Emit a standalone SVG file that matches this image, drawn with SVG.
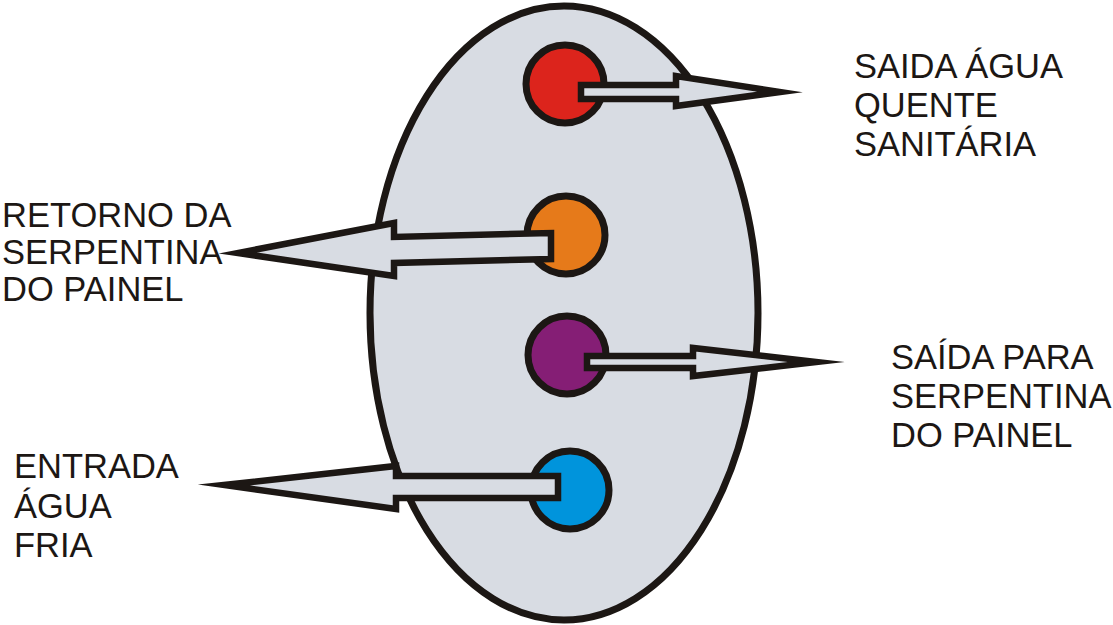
<svg xmlns="http://www.w3.org/2000/svg" width="1113" height="625" viewBox="0 0 1113 625">
<style>
.body{fill:#d8dce3;stroke:#1c1714;stroke-width:7}
.port{stroke:#1c1714;stroke-width:7}
.arrow{fill:#d8dce3;stroke:#1c1714;stroke-width:6.5;stroke-linejoin:miter;stroke-miterlimit:12}
.lbl{font-family:"Liberation Sans",Arial,sans-serif;font-size:34.5px;fill:#1c1714}
</style>
<rect width="1113" height="625" fill="#ffffff"/>
<g id="tank">
<ellipse class="body" cx="564" cy="313" rx="194" ry="307"/>
</g>
<g id="port-hot"><circle class="port" cx="565" cy="84" r="39" fill="#dc241c"/></g>
<g id="port-return"><circle class="port" cx="566" cy="235" r="39" fill="#e67a1a"/></g>
<g id="port-out"><circle class="port" cx="567" cy="355" r="39" fill="#851e75"/></g>
<g id="port-cold"><circle class="port" cx="570" cy="490" r="39" fill="#0094dc"/></g>
<g id="connectors">
<polygon class="arrow" points="581,85 676,85 676,76 780,92 676,106 676,99 581,99"/>
<polygon class="arrow" points="551,233 551,259 394,263 394,276 238,253 394,223 394,237"/>
<polygon class="arrow" points="587,356 693,356 693,348 816,362 693,376 693,368 587,368"/>
<polygon class="arrow" points="558,476 558,498 396,498 396,509 224,485 396,466 396,476"/>
</g>
<g id="label-hot">
<text class="lbl" x="854" y="78">SAIDA ÁGUA</text>
<text class="lbl" x="854" y="117">QUENTE</text>
<text class="lbl" x="854" y="156">SANITÁRIA</text>
</g>
<g id="label-return">
<text class="lbl" x="2" y="227">RETORNO DA</text>
<text class="lbl" x="2" y="264">SERPENTINA</text>
<text class="lbl" x="2" y="301">DO PAINEL</text>
</g>
<g id="label-out">
<text class="lbl" x="891" y="369">SAÍDA PARA</text>
<text class="lbl" x="891" y="408">SERPENTINA</text>
<text class="lbl" x="891" y="447">DO PAINEL</text>
</g>
<g id="label-cold">
<text class="lbl" x="14" y="478">ENTRADA</text>
<text class="lbl" x="14" y="518">ÁGUA</text>
<text class="lbl" x="14" y="557">FRIA</text>
</g>
</svg>
